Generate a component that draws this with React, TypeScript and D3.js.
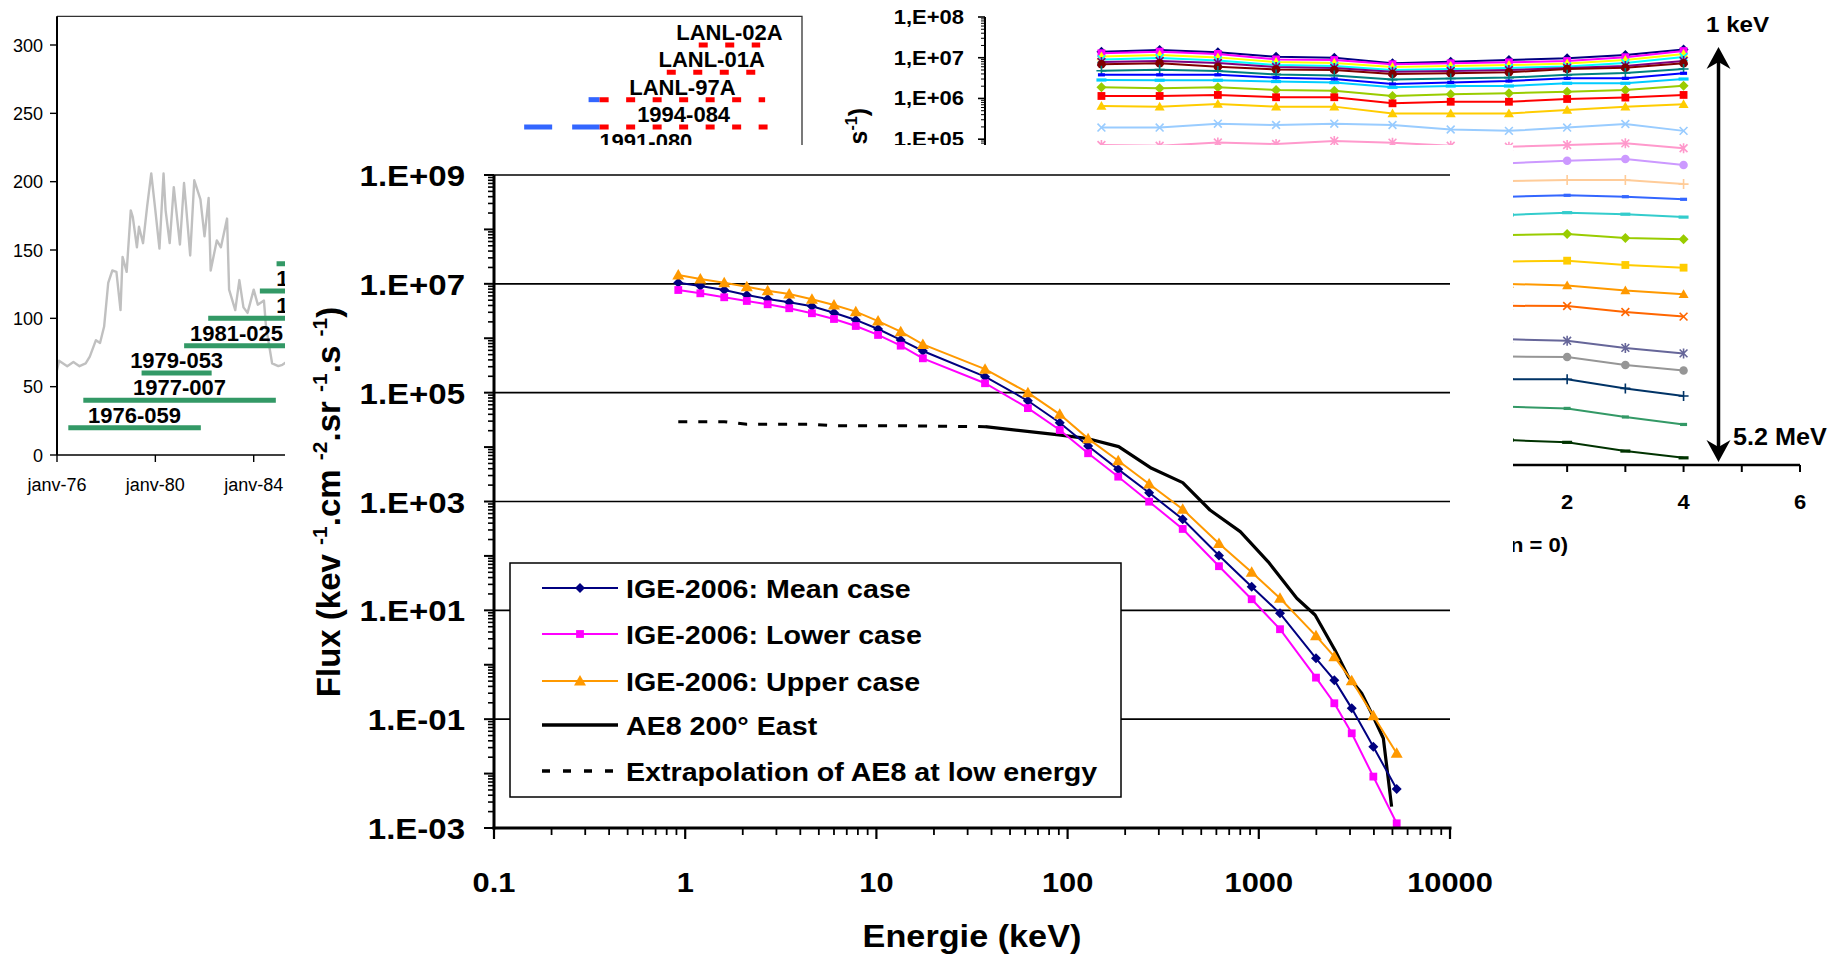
import React from 'react';
import * as d3 from 'd3';

const W = 1839;
const H = 957;
const FONT = "'Liberation Sans', Arial, Helvetica, sans-serif";

// Area taken by the energy-spectrum chart, drawn over the two background charts
const COVER = { x0: 285, y0: 145, x1: 1513, y1: H };
const covered = (x0: number, y0: number, x1: number, y1: number) =>
  x0 >= COVER.x0 && x1 <= COVER.x1 && y0 >= COVER.y0 && y1 <= COVER.y1;

// ---------- Solar activity panel (monthly index, months counted from January 1976)
const sunspotMonth = [0, 1, 5, 8, 11, 14, 16, 19, 21, 23, 25, 27, 29, 31, 32, 34, 36, 37, 39, 40, 42, 44, 46, 48, 50, 52, 53, 55, 57, 60, 62, 63, 65, 67, 70, 72, 74, 75, 78, 80, 83, 84, 87, 89, 91, 93, 96, 98, 101, 102, 105, 108, 110, 112];
const sunspotValue = [62, 69, 65, 68, 65, 67, 72, 84, 82, 94, 126, 135, 134, 106, 145, 134, 179, 174, 152, 167, 155, 182, 206, 179, 151, 206, 179, 155, 196, 154, 199, 182, 146, 201, 187, 160, 188, 135, 157, 152, 173, 121, 106, 128, 108, 104, 121, 110, 113, 94, 67, 65, 66, 68];
const leftYTicks = [0, 50, 100, 150, 200, 250, 300];
const leftYearTicks = [1976, 1980, 1984, 1988, 1992, 1996, 2000, 2004];

// LANL geostationary satellites, one row each
const satelliteName = ['1976-059', '1977-007', '1979-053', '1981-025', '1982-019', '1984-037', '1984-129', '1987-097', '1989-046', '1990-095', '1991-080', '1994-084', 'LANL-97A', 'LANL-01A', 'LANL-02A'];
const satelliteLevel = [20, 40, 60, 80, 100, 120, 140, 160, 180, 200, 220, 240, 260, 280, 300];
// [satellite index, first year, last year]
const cpaPeriods: [number, number, number][] = [[0, 1976.46, 1981.85], [1, 1977.07, 1984.9], [2, 1979.44, 1982.29], [3, 1981.17, 1985.43], [4, 1982.15, 1991.47], [5, 1984.25, 1989.37], [6, 1984.93, 1994.5], [7, 1987.8, 1995.6]];
const mpaPeriods: [number, number, number][] = [[8, 1989.8, 2004.9], [9, 1991.0, 2004.9], [10, 1991.9, 1995.0], [11, 1995.0, 1998.07], [12, 1997.62, 1998.07]];
const sopaPeriods: [number, number, number][] = [[10, 1995.0, 2004.9], [11, 1998.07, 2004.9], [12, 1998.07, 2004.8], [13, 2000.8, 2004.45], [14, 2002.1, 2004.6]];

// ---------- Flux versus solar-cycle year, one series per energy (1 keV ... 5.2 MeV)
const cycleYear = [-6, -5, -4, -3, -2, -1, 0, 1, 2, 3, 4];
const cycleColor = ['#000080', '#FF00FF', '#FFFF00', '#00FFFF', '#800080', '#800000', '#008080', '#0000FF', '#00CCFF', '#99CC00', '#FF0000', '#FFCC00', '#99CCFF', '#FF99CC', '#CC99FF', '#FFCC99', '#3366FF', '#33CCCC', '#99CC00', '#FFCC00', '#FF9900', '#FF6600', '#666699', '#969696', '#003366', '#339966', '#003300'];
const markerCycle = ['diamond', 'square', 'triangle', 'x', 'star', 'circle', 'plus', 'dashS', 'dashL'];
const N = null;
const cycleFlux: (number | null)[][] = [
  [1.4e7, 1.55e7, 1.36e7, 1.06e7, 1.0e7, 7.3e6, 8.0e6, 8.8e6, 9.7e6, 1.17e7, 1.6e7],
  [1.29e7, 1.41e7, 1.24e7, 9.1e6, 8.8e6, 6.9e6, 7.3e6, 7.7e6, 8.3e6, 1.03e7, 1.46e7],
  [1.07e7, 1.17e7, 1.02e7, 7.85e6, 7.4e6, 5.9e6, 6.3e6, 6.6e6, 7.2e6, 8.8e6, 1.24e7],
  [9.1e6, 9.85e6, 8.6e6, 6.6e6, 6.3e6, 5.0e6, 5.3e6, 5.6e6, 6.1e6, 7.4e6, 1.04e7],
  [7.85e6, 8.3e6, 7.4e6, 5.9e6, 5.6e6, 4.5e6, 4.7e6, 5.0e6, 5.6e6, 6.3e6, 8.3e6],
  [6.9e6, 7.3e6, 6.0e6, 5.15e6, 5.0e6, 4.0e6, 4.15e6, 4.4e6, 5.3e6, 5.7e6, 7.3e6],
  [4.8e6, 5.1e6, 4.7e6, 3.9e6, 3.65e6, 2.9e6, 3.1e6, 3.25e6, 3.8e6, 4.2e6, 5.3e6],
  [3.8e6, 3.8e6, 3.8e6, 3.24e6, 3.0e6, 2.26e6, 2.48e6, 2.68e6, 3.12e6, 3.12e6, 4.15e6],
  [2.84e6, 2.8e6, 2.8e6, 2.6e6, 2.45e6, 1.88e6, 2.02e6, 2.02e6, 2.36e6, 2.36e6, 3.0e6],
  [1.88e6, 1.78e6, 1.88e6, 1.61e6, 1.55e6, 1.15e6, 1.27e6, 1.34e6, 1.47e6, 1.61e6, 2.06e6],
  [1.15e6, 1.15e6, 1.22e6, 1.07e6, 1.07e6, 7.6e5, 8.3e5, 8.3e5, 9.7e5, 1.05e6, 1.22e6],
  [6.5e5, 6.3e5, 7.3e5, 6.3e5, 6.3e5, 4.3e5, 4.3e5, 4.3e5, 5.2e5, 6.3e5, 7.2e5],
  [1.93e5, 1.93e5, 2.4e5, 2.23e5, 2.4e5, 2.23e5, 1.73e5, 1.6e5, 1.93e5, 2.36e5, 1.6e5],
  [7.2e4, 6.9e4, 8.3e4, 7.6e4, 9.0e4, 8.2e4, 6.9e4, 6.5e4, 7.2e4, 7.9e4, 6.0e4],
  [N, N, N, N, N, N, N, 2.56e4, 2.96e4, 3.26e4, 2.32e4],
  [N, N, N, N, N, N, N, 9.4e3, 9.95e3, 9.95e3, 7.9e3],
  [N, N, N, N, N, N, N, 3.87e3, 4.19e3, 3.87e3, 3.34e3],
  [N, N, N, N, N, N, N, 1.38e3, 1.57e3, 1.44e3, 1.22e3],
  [N, N, N, N, N, N, N, 445, 470, 375, 350],
  [N, N, N, N, N, N, N, 99, 104, 81.5, 70],
  [N, N, N, N, N, N, N, 27.9, 25.5, 19.3, 15.6],
  [N, N, N, N, N, N, N, 8.1, 8.0, 5.7, 4.4],
  [N, N, N, N, N, N, N, 1.22, 1.12, 0.75, 0.55],
  [N, N, N, N, N, N, N, 0.46, 0.45, 0.286, 0.21],
  [N, N, N, N, N, N, N, 0.128, 0.128, 0.076, 0.0495],
  [N, N, N, N, N, N, N, 0.027, 0.0245, 0.0151, 0.0099],
  [N, N, N, N, N, N, N, 0.0041, 0.0036, 0.0022, 0.0015],
];
const cycleXTicks = [-8, -7, -6, -5, -4, -3, -2, -1, 0, 1, 2, 3, 4, 5, 6];

// ---------- Energy spectra (keV, flux in keV-1.cm-2.sr-1.s-1)
const igeEnergy = [0.92, 1.2, 1.6, 2.1, 2.7, 3.5, 4.6, 6.0, 7.8, 10.2, 13.4, 17.5, 37, 62, 91, 128, 184, 267, 400, 619, 918, 1291, 1991, 2483, 3062, 3972, 5262];
const igeMean = [1.05e7, 9.1e6, 7.7e6, 6.24e6, 5.26e6, 4.58e6, 3.87e6, 2.95e6, 2.17e6, 1.48e6, 9.3e5, 5.83e5, 1.97e5, 7.1e4, 2.8e4, 1.05e4, 3.9e3, 1.45e3, 471, 102, 27.2, 8.8, 1.31, 0.52, 0.158, 0.031, 0.0052];
const igeLower = [7.7e6, 6.7e6, 5.66e6, 4.84e6, 4.21e6, 3.56e6, 2.88e6, 2.26e6, 1.68e6, 1.15e6, 7.3e5, 4.28e5, 1.49e5, 5.2e4, 2.06e4, 7.7e3, 2.86e3, 993, 313, 64.7, 16, 4.5, 0.58, 0.196, 0.055, 0.0088, 0.00122];
const igeUpper = [1.45e7, 1.23e7, 1.05e7, 8.85e6, 7.48e6, 6.5e6, 5.2e6, 4.08e6, 3.08e6, 2.07e6, 1.32e6, 7.7e5, 2.7e5, 1.0e5, 4.0e4, 1.43e4, 5.6e3, 2.1e3, 720, 169, 50, 16.7, 3.4, 1.41, 0.51, 0.116, 0.0236];
const ae8Energy = [37, 90, 125, 185, 275, 400, 555, 800, 1120, 1580, 1970, 2500, 2940, 3450, 3970, 4480, 4950];
const ae8Flux = [2.37e4, 1.67e4, 1.45e4, 1.02e4, 4.07e3, 2.22e3, 698, 279, 78, 16.7, 8.2, 1.87, 0.6, 0.3, 0.111, 0.0446, 0.00247];
const extrapEnergy = [0.92, 1.2, 1.6, 2.1, 2.7, 3.5, 4.6, 6.0, 7.8, 10.2, 13.4, 17.5, 37];
const extrapFlux = [2.93e4, 2.93e4, 2.93e4, 2.62e4, 2.62e4, 2.62e4, 2.62e4, 2.47e4, 2.47e4, 2.47e4, 2.47e4, 2.44e4, 2.37e4];
const energyTicks = [0.1, 1, 10, 100, 1000, 10000];
const fluxLabelExp = [9, 7, 5, 3, 1, -1, -3];

const legendLabels = ['IGE-2006: Mean case', 'IGE-2006: Lower case', 'IGE-2006: Upper case', 'AE8 200° East', 'Extrapolation of AE8 at low energy'];

// ---------- scales
const xL = d3.scaleLinear().domain([1976, 2006.3]).range([57, 802]);
const yL = d3.scaleLinear().domain([0, 300]).range([455, 45]);
const xR = d3.scaleLinear().domain([-8, 6]).range([985, 1800]);
const yR = d3.scaleLog().domain([1e-3, 1e8]).range([465, 17]);
const xM = d3.scaleLog().domain([0.1, 1e4]).range([494, 1450]);
const yM = d3.scaleLog().domain([1e-3, 1e9]).range([828, 175]);

function Marker({ shape, x, y, r, color }: { shape: string; x: number; y: number; r: number; color: string }) {
  const s = r * 0.78;
  switch (shape) {
    case 'diamond':
      return <path d={`M${x},${y - r}L${x + r},${y}L${x},${y + r}L${x - r},${y}Z`} fill={color} />;
    case 'square':
      return <rect x={x - s} y={y - s} width={2 * s} height={2 * s} fill={color} />;
    case 'triangle':
      return <path d={`M${x},${y - r}L${x + r},${y + r * 0.75}L${x - r},${y + r * 0.75}Z`} fill={color} />;
    case 'circle':
      return <circle cx={x} cy={y} r={r * 0.85} fill={color} />;
    case 'x':
      return <path d={`M${x - s},${y - s}L${x + s},${y + s}M${x - s},${y + s}L${x + s},${y - s}`} stroke={color} strokeWidth={1.6} fill="none" />;
    case 'star':
      return <path d={`M${x - s},${y - s}L${x + s},${y + s}M${x - s},${y + s}L${x + s},${y - s}M${x},${y - r}L${x},${y + r}`} stroke={color} strokeWidth={1.6} fill="none" />;
    case 'plus':
      return <path d={`M${x - r},${y}L${x + r},${y}M${x},${y - r}L${x},${y + r}`} stroke={color} strokeWidth={1.6} fill="none" />;
    case 'dashS':
      return <rect x={x - r * 0.7} y={y - 1.6} width={r * 1.4} height={3.2} fill={color} />;
    case 'dashL':
      return <rect x={x - r} y={y - 1.6} width={r * 2} height={3.2} fill={color} />;
    default:
      return null;
  }
}

function SText({ x, y, sx = 1, anchor = 'start', size, weight = 'bold', fill = '#000', children }: any) {
  return (
    <text transform={`translate(${x},${y}) scale(${sx},1)`} textAnchor={anchor} fontSize={size} fontWeight={weight} fill={fill} fontFamily={FONT}>
      {children}
    </text>
  );
}

function minorDecades(lo: number, hi: number) {
  const out: number[] = [];
  for (let d = lo; d < hi; d++) for (let k = 2; k <= 9; k++) out.push(k * Math.pow(10, d));
  return out;
}

function expLabel(e: number, sep: string) {
  const sign = e < 0 ? '-' : '+';
  const a = Math.abs(e);
  return `1${sep}E${sign}${a < 10 ? '0' + a : a}`;
}

function LeftPanel() {
  const sunLine = d3.line<number>().x((_, i) => xL(1976 + sunspotMonth[i] / 12)).y((v) => yL(v));
  const lastPeriod: Record<number, [number, number]> = {};
  [...cpaPeriods, ...mpaPeriods, ...sopaPeriods].forEach(([i, a, b]) => {
    if (!lastPeriod[i] || b > lastPeriod[i][1] || (b === lastPeriod[i][1] && a > lastPeriod[i][0])) lastPeriod[i] = [a, b];
  });
  const seg = (p: [number, number, number][], color: string, dash: string | undefined, key: string) =>
    p.map(([i, a, b]) => (
      <line key={key + '-' + i} x1={xL(a)} x2={xL(b)} y1={yL(satelliteLevel[i])} y2={yL(satelliteLevel[i])} stroke={color} strokeWidth={5} strokeDasharray={dash} />
    ));
  return (
    <g>
      <path d={`M${xL(1976)},${yL(321)}H${xL(2006.3)}V${yL(0)}`} fill="none" stroke="#333" strokeWidth={1.3} />
      <path d={sunLine(sunspotValue) || ''} fill="none" stroke="#C0C0C0" strokeWidth={2.4} strokeLinejoin="round" />
      {seg(cpaPeriods, '#339966', undefined, 'c')}
      {seg(mpaPeriods, '#3366FF', '28,20', 'm')}
      {seg(sopaPeriods, '#FF0000', '9,17.5', 's')}
      {satelliteName.map((n, i) => {
        const p = lastPeriod[i];
        const cx = (xL(p[0]) + xL(p[1])) / 2;
        const by = yL(satelliteLevel[i]) - 5;
        if (covered(cx - 47, by - 17, cx + 47, by + 1)) return null;
        return (
          <SText key={n} x={cx} y={by} anchor="middle" size={22}>
            {n}
          </SText>
        );
      })}
      <line x1={57} x2={57} y1={yL(321)} y2={yL(0)} stroke="#000" strokeWidth={2} />
      <line x1={57} x2={xL(2006.3)} y1={yL(0)} y2={yL(0)} stroke="#000" strokeWidth={1.4} />
      {leftYTicks.map((t) => (
        <g key={t}>
          <line x1={50} x2={57} y1={yL(t)} y2={yL(t)} stroke="#000" strokeWidth={1.4} />
          <SText x={43} y={yL(t) + 6.5} anchor="end" size={18} weight="normal">
            {t}
          </SText>
        </g>
      ))}
      {leftYearTicks.map((t) => (
        <g key={t}>
          <line x1={xL(t)} x2={xL(t)} y1={455} y2={462} stroke="#000" strokeWidth={1.4} />
          {!covered(xL(t) - 33, 477, xL(t) + 33, 496) && (
            <SText x={xL(t)} y={491} anchor="middle" size={18} weight="normal">
              {`janv-${String(t).slice(2)}`}
            </SText>
          )}
        </g>
      ))}
    </g>
  );
}

function RightPanel() {
  const line = d3
    .line<number | null>()
    .defined((v) => v != null)
    .x((_, i) => xR(cycleYear[i]))
    .y((v) => yR(v as number));
  const arrowX = xR(4.6);
  const head = (tipY: number, dir: number) =>
    `M${arrowX},${tipY}L${arrowX + 12},${tipY + dir * 22}L${arrowX},${tipY + dir * 15}L${arrowX - 12},${tipY + dir * 22}Z`;
  return (
    <g>
      {cycleFlux.map((vals, s) => (
        <g key={s}>
          <path d={line(vals) || ''} fill="none" stroke={cycleColor[s]} strokeWidth={2} />
          {vals.map((v, i) =>
            v == null ? null : <Marker key={i} shape={markerCycle[s % 9]} x={xR(cycleYear[i])} y={yR(v)} r={5} color={cycleColor[s]} />
          )}
        </g>
      ))}
      {/* y axis */}
      <line x1={985} x2={985} y1={yR(1e8)} y2={yR(1e-3)} stroke="#000" strokeWidth={2} />
      {d3.range(-3, 9).map((e) => (
        <line key={e} x1={978} x2={985} y1={yR(Math.pow(10, e))} y2={yR(Math.pow(10, e))} stroke="#000" strokeWidth={1.6} />
      ))}
      {minorDecades(-3, 8).map((v) => (
        <line key={v} x1={981} x2={985} y1={yR(v)} y2={yR(v)} stroke="#000" strokeWidth={1} />
      ))}
      {d3.range(-3, 9).map((e) => {
        const y = yR(Math.pow(10, e));
        if (covered(890, y - 8, 964, y + 8)) return null;
        return (
          <SText key={'l' + e} x={964} y={y + 7} anchor="end" size={20} sx={1.1}>
            {expLabel(e, ',')}
          </SText>
        );
      })}
      <text transform="translate(867,108) rotate(-90)" textAnchor="end" fontSize={25} fontWeight="bold" fontFamily={FONT}>
        Flux (keV<tspan dy={-10} fontSize={16}>-1</tspan>
        <tspan dy={10}>.cm</tspan>
        <tspan dy={-10} fontSize={16}>-2</tspan>
        <tspan dy={10}>.sr</tspan>
        <tspan dy={-10} fontSize={16}>-1</tspan>
        <tspan dy={10}>.s</tspan>
        <tspan dy={-10} fontSize={16}>-1</tspan>
        <tspan dy={10}>)</tspan>
      </text>
      {/* x axis */}
      <line x1={985} x2={1800} y1={465} y2={465} stroke="#000" strokeWidth={2.5} />
      {cycleXTicks.map((t) => (
        <line key={t} x1={xR(t)} x2={xR(t)} y1={465} y2={472} stroke="#000" strokeWidth={2} />
      ))}
      {cycleXTicks
        .filter((t) => t % 2 === 0 && !covered(xR(t) - 14, 492, xR(t) + 14, 512))
        .map((t) => (
          <SText key={'x' + t} x={xR(t)} y={509} anchor="middle" size={20} sx={1.1}>
            {t}
          </SText>
        ))}
      <SText x={1568} y={552} anchor="end" size={20} sx={1.1}>
        Année du cycle solaire (min = 0)
      </SText>
      {/* energy arrow */}
      <line x1={arrowX} x2={arrowX} y1={60} y2={448} stroke="#000" strokeWidth={3.5} />
      <path d={head(47, 1)} fill="#000" />
      <path d={head(462, -1)} fill="#000" />
      <SText x={1706} y={32} size={22} sx={1.1}>
        1 keV
      </SText>
      <SText x={1733} y={445} size={24} sx={1.05}>
        5.2 MeV
      </SText>
    </g>
  );
}

function MainPanel() {
  const ln = (xs: number[]) => d3.line<number>().x((_, i) => xM(xs[i])).y((v) => yM(v));
  const series = [
    { data: igeMean, color: '#000080', shape: 'diamond', r: 5 },
    { data: igeLower, color: '#FF00FF', shape: 'square', r: 5 },
    { data: igeUpper, color: '#FF9900', shape: 'triangle', r: 6 },
  ];
  const gridExp = [9, 7, 5, 3, 1, -1];
  const legendY = [588, 634, 681, 725, 771];
  return (
    <g>
      {gridExp.map((e) => (
        <line key={e} x1={494} x2={1450} y1={yM(Math.pow(10, e))} y2={yM(Math.pow(10, e))} stroke="#000" strokeWidth={1.6} />
      ))}
      <path d={ln(extrapEnergy)(extrapFlux) || ''} fill="none" stroke="#000" strokeWidth={3} strokeDasharray="9,11" />
      <path d={ln(ae8Energy)(ae8Flux) || ''} fill="none" stroke="#000" strokeWidth={3.2} strokeLinejoin="round" />
      {series.map((s) => (
        <g key={s.color}>
          <path d={ln(igeEnergy)(s.data) || ''} fill="none" stroke={s.color} strokeWidth={2} />
          {s.data.map((v, i) => (
            <Marker key={i} shape={s.shape} x={xM(igeEnergy[i])} y={yM(v)} r={s.r} color={s.color} />
          ))}
        </g>
      ))}
      {/* legend */}
      <rect x={510} y={563} width={611} height={234} fill="#fff" stroke="#000" strokeWidth={1.5} />
      {legendLabels.map((label, i) => {
        const y = legendY[i];
        const s = series[i];
        return (
          <g key={label}>
            {i < 3 && (
              <>
                <line x1={542} x2={618} y1={y} y2={y} stroke={s.color} strokeWidth={2} />
                <Marker shape={s.shape} x={580} y={y} r={s.r} color={s.color} />
              </>
            )}
            {i === 3 && <line x1={542} x2={618} y1={y} y2={y} stroke="#000" strokeWidth={3.5} />}
            {i === 4 && <line x1={542} x2={618} y1={y} y2={y} stroke="#000" strokeWidth={3.5} strokeDasharray="8,13" />}
            <SText x={626} y={y + 9.5} size={26.5} sx={1.08}>
              {label}
            </SText>
          </g>
        );
      })}
      {/* y axis */}
      <line x1={494} x2={494} y1={175} y2={829.5} stroke="#000" strokeWidth={3} />
      {d3.range(-3, 10).map((e) => (
        <line key={e} x1={484} x2={494} y1={yM(Math.pow(10, e))} y2={yM(Math.pow(10, e))} stroke="#000" strokeWidth={2} />
      ))}
      {minorDecades(-3, 9).map((v) => (
        <line key={v} x1={488} x2={494} y1={yM(v)} y2={yM(v)} stroke="#000" strokeWidth={1.6} />
      ))}
      {fluxLabelExp.map((e) => (
        <SText key={e} x={465} y={yM(Math.pow(10, e)) + 11} anchor="end" size={30} sx={1.1}>
          {expLabel(e, '.')}
        </SText>
      ))}
      {/* x axis */}
      <line x1={492.5} x2={1451.5} y1={828} y2={828} stroke="#000" strokeWidth={3} />
      {energyTicks.map((t) => (
        <line key={t} x1={xM(t)} x2={xM(t)} y1={828} y2={839} stroke="#000" strokeWidth={2.2} />
      ))}
      {minorDecades(-1, 4).map((v) => (
        <line key={v} x1={xM(v)} x2={xM(v)} y1={828} y2={835} stroke="#000" strokeWidth={1.8} />
      ))}
      {energyTicks.map((t) => (
        <SText key={'l' + t} x={xM(t)} y={892} anchor="middle" size={28} sx={1.1}>
          {String(t)}
        </SText>
      ))}
      <SText x={972} y={947} anchor="middle" size={32} sx={1.07}>
        Energie (keV)
      </SText>
      <text transform="translate(340,502) rotate(-90)" textAnchor="middle" fontSize={33} fontWeight="bold" fontFamily={FONT}>
        Flux (kev <tspan dy={-13} fontSize={21}>-1</tspan>
        <tspan dy={13}>.cm </tspan>
        <tspan dy={-13} fontSize={21}>-2</tspan>
        <tspan dy={13}>.sr </tspan>
        <tspan dy={-13} fontSize={21}>-1</tspan>
        <tspan dy={13}>.s </tspan>
        <tspan dy={-13} fontSize={21}>-1</tspan>
        <tspan dy={13}>)</tspan>
      </text>
    </g>
  );
}

export default function App() {
  return (
    <svg width={W} height={H} style={{ position: 'absolute', left: 0, top: 0, display: 'block' }} fontFamily={FONT}>
      <rect width={W} height={H} fill="#fff" />
      <LeftPanel />
      <RightPanel />
      <rect x={COVER.x0} y={COVER.y0} width={COVER.x1 - COVER.x0} height={COVER.y1 - COVER.y0} fill="#fff" />
      <MainPanel />
    </svg>
  );
}
